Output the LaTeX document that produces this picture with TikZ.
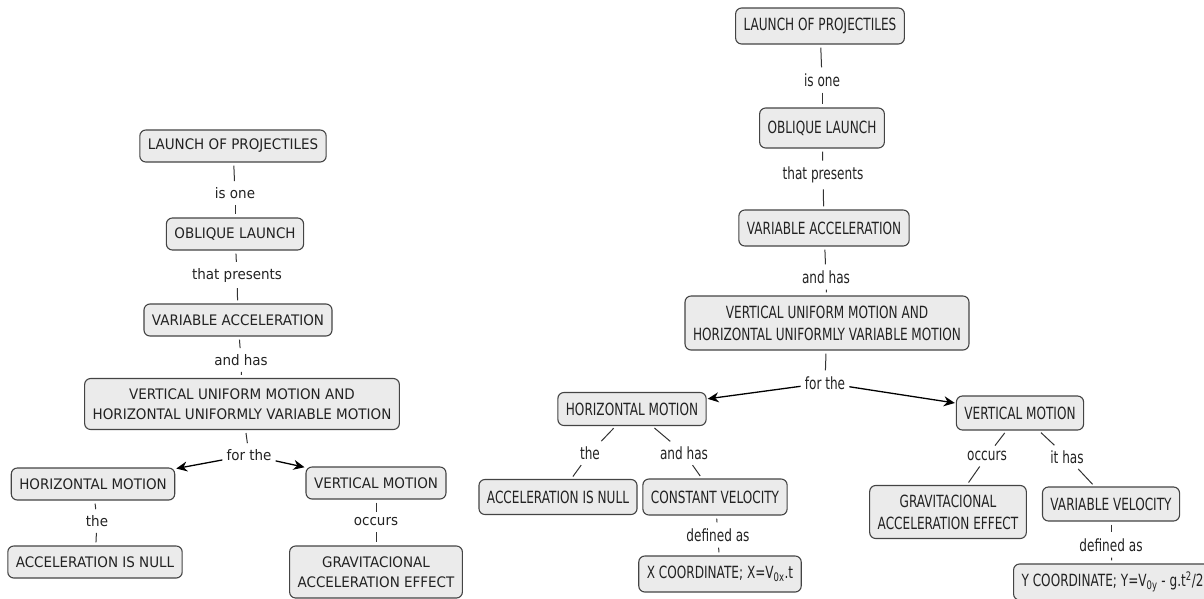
\documentclass[tikz,border=0pt]{standalone}
\usepackage{fontspec}
\newfontfamily\lfont[FakeStretch=0.93]{DejaVu Sans}
\newfontfamily\rfont[FakeStretch=0.72]{DejaVu Sans}
\usetikzlibrary{arrows.meta}
\definecolor{boxfill}{HTML}{EBEBEB}
\definecolor{boxline}{HTML}{444444}
\definecolor{txt}{HTML}{222222}
\definecolor{lnc}{HTML}{333333}
\begin{document}
\begin{tikzpicture}[x=1pt,y=-1pt,
  cbox/.style={draw=boxline, fill=boxfill, rounded corners=6pt, line width=1.1pt,
    inner xsep=8pt, inner ysep=2pt, align=center, text=txt},
  lbox/.style={cbox, minimum height=32pt, font=\lfont\fontsize{14.5}{20}\selectfont},
  rbox/.style={cbox, minimum height=36pt, font=\rfont\fontsize{16.8}{22}\selectfont},
  llab/.style={inner sep=3pt, text=txt, font=\lfont\fontsize{14.5}{20}\selectfont},
  rlab/.style={inner sep=3pt, text=txt, font=\rfont\fontsize{16.8}{22}\selectfont},
  ln/.style={draw=lnc, line width=1pt, shorten <=3pt, shorten >=3pt},
  arr/.style={draw=black, line width=1.3pt, -{Stealth[length=11pt,width=10pt]}, shorten <=1pt, shorten >=1pt}
]
\useasboundingbox (0,0) rectangle (1204,598);
\clip (0,0) rectangle (1204,598);
% ---------- left map ----------
\node[lbox] (lA) at (233,146) {LAUNCH OF PROJECTILES};
\node[llab] (l1) at (235,193) {is one};
\node[lbox] (lB) at (235,234) {OBLIQUE LAUNCH};
\node[llab] (l2) at (237,275) {that presents};
\node[lbox] (lC) at (238,320) {VARIABLE ACCELERATION};
\node[llab] (l3) at (241,360) {and has};
\node[lbox, minimum height=51pt] (lD) at (242,404) {VERTICAL UNIFORM MOTION AND\\HORIZONTAL UNIFORMLY VARIABLE MOTION};
\node[llab] (l4) at (249,455) {for the};
\node[lbox] (lE) at (93,484) {HORIZONTAL MOTION};
\node[lbox] (lF) at (376,483) {VERTICAL MOTION};
\node[llab] (l5) at (97,521) {the};
\node[lbox] (lG) at (95,562) {ACCELERATION IS NULL};
\node[llab] (l6) at (376,522) {occurs};
\node[lbox, minimum height=52pt] (lH) at (376,572) {GRAVITACIONAL\\ACCELERATION EFFECT};
\draw[ln] (lA) -- (l1); \draw[ln] (l1) -- (lB);
\draw[ln] (lB) -- (l2); \draw[ln] (l2) -- (lC);
\draw[ln] (lC) -- (l3); \draw[ln] (l3) -- (lD);
\draw[ln] (lD) -- (l4);
\draw[arr] (l4) -- (lE); \draw[arr] (l4) -- (lF);
\draw[ln] (lE) -- (l5); \draw[ln] (l5) -- (lG);
\draw[ln] (lF) -- (l6); \draw[ln] (l6) -- (lH);
% ---------- right map ----------
\node[rbox] (rA) at (820,26) {LAUNCH OF PROJECTILES};
\node[rlab] (r1) at (822,80) {is one};
\node[rbox, minimum height=40pt] (rB) at (822,128) {OBLIQUE LAUNCH};
\node[rlab] (r2) at (823,175) {that presents};
\node[rbox] (rC) at (824,228) {VARIABLE ACCELERATION};
\node[rlab] (r3) at (826,277) {and has};
\node[rbox, minimum height=54pt] (rD) at (827,323) {VERTICAL UNIFORM MOTION AND\\HORIZONTAL UNIFORMLY VARIABLE MOTION};
\node[rlab] (r4) at (825,383) {for the};
\node[rbox, minimum height=33pt] (rE) at (632,409) {HORIZONTAL MOTION};
\node[rbox, minimum height=34pt] (rF) at (1020,413) {VERTICAL MOTION};
\node[rlab] (r5) at (590,453) {the};
\node[rlab] (r6) at (684,453) {and has};
\node[rbox, minimum height=35pt] (rG) at (558,497) {ACCELERATION IS NULL};
\node[rbox] (rH) at (715,497) {CONSTANT VELOCITY};
\node[rlab] (r7) at (718,535) {defined as};
\node[rbox] (rI) at (720,574) {X COORDINATE; X=V\textsubscript{0x}.t};
\node[rlab] (r8) at (987,456) {occurs};
\node[rlab] (r9) at (1067,457) {it has};
\node[rbox, minimum height=53pt] (rJ) at (948,512) {GRAVITACIONAL\\ACCELERATION EFFECT};
\node[rbox, minimum height=34pt] (rK) at (1111,504) {VARIABLE VELOCITY};
\node[rlab] (r10) at (1111,545) {defined as};
\node[rbox, anchor=west] (rL) at (1013,582) {Y COORDINATE; Y=V\textsubscript{0y} - g.t\textsuperscript{2}/2};
\draw[ln] (rA) -- (r1); \draw[ln] (r1) -- (rB);
\draw[ln] (rB) -- (r2); \draw[ln] (r2) -- (rC);
\draw[ln] (rC) -- (r3); \draw[ln] (r3) -- (rD);
\draw[ln] (rD) -- (r4);
\draw[arr] (r4) -- (rE); \draw[arr] (r4) -- (rF);
\draw[ln] (rE) -- (r5); \draw[ln] (r5) -- (rG);
\draw[ln] (rE) -- (r6); \draw[ln] (r6) -- (rH);
\draw[ln] (rH) -- (r7); \draw[ln] (r7) -- (rI);
\draw[ln] (rF) -- (r8); \draw[ln] (r8) -- (rJ);
\draw[ln] (rF) -- (r9); \draw[ln] (r9) -- (rK);
\draw[ln] (rK) -- (r10); \draw[ln] (r10) -- (rL);
\end{tikzpicture}
\end{document}
